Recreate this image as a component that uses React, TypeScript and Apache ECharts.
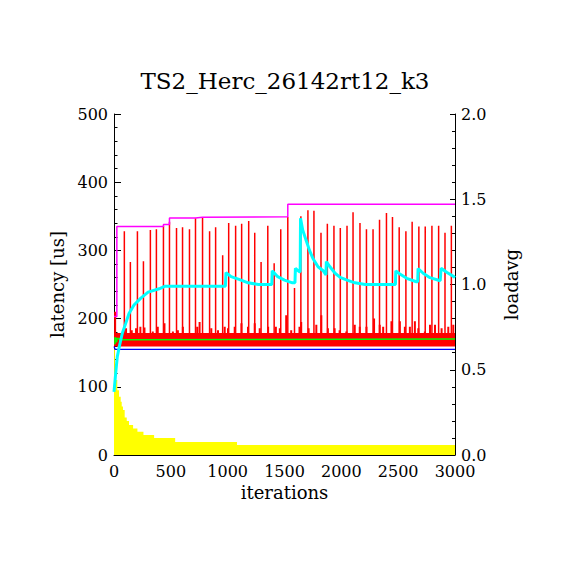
import React, { useEffect, useRef } from "react";
import * as echarts from "echarts";

const titleText = "TS2_Herc_26142rt12_k3";
const xTicks = { min: 0, max: 3000, step: 500 };
const latTicks = { min: 0, max: 500, step: 100 };
const loadTicks = { min: 0, max: 2, step: 0.5 };

// tall latency spikes (iteration, us)
const spikeIter = [91,144,206,259,320,373,435,488,550,603,664,717,779,841,894,956,1009,1070,1123,1185,1238,1294,1353,1409,1467,1529,1588,1644,1706,1759,1821,1877,1935,1991,2050,2103,2164,2221,2279,2336,2397,2450,2509,2568,2623,2682,2738,2797,2856,2912,2968];
const spikeVal = [328,283,328,284,330,331,336,342,333,334,331,347,349,328,334,293,340,336,339,343,326,283,336,281,331,349,245,350,359,358,326,339,336,333,336,356,340,331,331,345,355,349,334,328,342,335,335,336,336,326,336];

// smaller latency bursts above the dense band
const burstIter = [10,106,156,194,232,268,341,385,444,518,562,606,732,753,856,915,974,1003,1062,1121,1179,1238,1282,1356,1424,1459,1515,1559,1632,1647,1712,1780,1824,1882,1941,1985,2044,2118,2162,2221,2288,2338,2368,2441,2515,2559,2603,2647,2677,2735,2780,2824,2882,2941,2985];
const burstVal = [210,186,183,186,188,187,181,188,193,181,183,188,188,195,186,183,188,186,188,193,188,193,186,188,188,186,205,183,188,195,186,191,205,186,186,183,181,191,188,188,200,191,188,196,196,188,188,196,186,181,191,191,186,188,191];

// dense latency band
const bandIter = [0, 3000];
const bandLow = [159, 159];
const bandHigh = [179, 179];

// running max latency (steps)
const maxIter = [0, 25, 435, 488, 717, 779, 1529, 3000];
const maxVal = [203, 335, 338, 347.5, 348.5, 349.5, 367.5, 367.5];

// average latency
const avgIter = [0, 8, 15, 25, 45, 80, 3000];
const avgVal = [163, 172, 166, 171, 169, 170, 170];

// min latency
const minIter = [0, 10, 3000];
const minVal = [159, 155, 155];

// histogram-like decaying yellow area
const yelIter = [0, 8, 15, 29, 44, 59, 68, 79, 94, 112, 132, 168, 206, 259, 353, 538, 1082, 3000];
const yelVal = [155, 120, 110, 95, 85.5, 78, 71, 66, 55, 50, 44, 39, 34, 29.3, 25, 19, 14.7, 14.7];

// load average
const loadIter = [0,15,29,50,73,103,132,176,236,300,397,450,980,985,1030,1100,1180,1270,1388,1392,1440,1500,1570,1592,1596,1630,1638,1641,1660,1690,1720,1750,1795,1840,1865,1868,1900,1945,1990,2050,2120,2210,2476,2479,2515,2575,2660,2672,2675,2720,2780,2870,2874,2877,2930,2990,3000];
const loadVal = [0.37,0.48,0.577,0.645,0.714,0.772,0.83,0.88,0.92,0.955,0.975,0.99,0.99,1.07,1.046,1.03,1.01,1.0,1.0,1.08,1.046,1.026,1.01,1.01,1.095,1.075,1.075,1.388,1.32,1.26,1.2,1.153,1.104,1.081,1.056,1.134,1.104,1.066,1.042,1.026,1.01,1.0,1.0,1.08,1.062,1.036,1.016,1.016,1.093,1.066,1.04,1.022,1.022,1.095,1.07,1.046,1.04];

const pairs = (xs: number[], ys: number[]) => xs.map((x, i) => [x, ys[i]]);
const spikes = (xs: number[], ys: number[], base: number) =>
  xs.flatMap((x, i) => [[x, base], [x, ys[i]], [x, base]]);

export default function App() {
  const ref = useRef<HTMLDivElement>(null);
  useEffect(() => {
    document.body.style.margin = "0";
    const chart = echarts.init(ref.current!, null, { renderer: "svg" });
    const font = "'DejaVu Serif', 'Liberation Serif', serif";
    const black = "#000";
    const txt = { fontFamily: font, fontSize: 16, color: black };
    const nameTxt = { fontFamily: font, fontSize: 18, color: black };
    chart.setOption({
      animation: false,
      backgroundColor: "#fff",
      title: {
        text: titleText,
        left: "center",
        top: 64,
        textStyle: { fontFamily: font, fontSize: 23, fontWeight: "normal", color: black },
      },
      grid: { left: 114, right: 115, top: 114, bottom: 115, containLabel: false },
      xAxis: {
        type: "value",
        min: xTicks.min,
        max: xTicks.max,
        interval: xTicks.step,
        name: "iterations",
        nameLocation: "middle",
        nameGap: 28,
        nameTextStyle: nameTxt,
        axisLine: { show: true, onZero: false, lineStyle: { color: black, width: 1 } },
        axisTick: { show: true, inside: true, length: 7, lineStyle: { color: black } },
        axisLabel: { ...txt, margin: 8, formatter: (v: number) => String(v) },
        splitLine: { show: false },
      },
      yAxis: [
        {
          type: "value",
          position: "left",
          min: latTicks.min,
          max: latTicks.max,
          interval: latTicks.step,
          name: "latency [us]",
          nameLocation: "middle",
          nameRotate: 90,
          nameGap: 40,
          nameTextStyle: nameTxt,
          axisLine: { show: true, onZero: false, lineStyle: { color: black, width: 1 } },
          axisTick: { show: true, inside: true, length: 7, lineStyle: { color: black } },
          minorTick: { show: true, splitNumber: 5, length: 3.5, lineStyle: { color: black } },
          axisLabel: { ...txt, margin: 6, formatter: (v: number) => String(v) },
          splitLine: { show: false },
        },
        {
          type: "value",
          position: "right",
          min: loadTicks.min,
          max: loadTicks.max,
          interval: loadTicks.step,
          name: "loadavg",
          nameLocation: "middle",
          nameRotate: 90,
          nameGap: 47,
          nameTextStyle: nameTxt,
          axisLine: { show: true, onZero: false, lineStyle: { color: black, width: 1 } },
          axisTick: { show: true, inside: true, length: 5, lineStyle: { color: black } },
          minorTick: { show: true, splitNumber: 5, length: 3, lineStyle: { color: black } },
          axisLabel: { ...txt, margin: 6, formatter: (v: number) => v.toFixed(1) },
          splitLine: { show: false },
        },
      ],
      series: [
        {
          type: "line",
          yAxisIndex: 0,
          step: "end",
          symbol: "none",
          data: pairs(yelIter, yelVal),
          lineStyle: { width: 0, color: "#ffff00" },
          areaStyle: { color: "#ffff00", opacity: 1 },
        },
        {
          type: "line",
          yAxisIndex: 0,
          symbol: "none",
          data: pairs(bandIter, bandHigh),
          lineStyle: { width: 0, color: "#ff0000" },
          areaStyle: { color: "#ff0000", opacity: 1, origin: bandLow[0] },
        },
        {
          type: "line",
          yAxisIndex: 0,
          symbol: "none",
          data: spikes(burstIter, burstVal, 170),
          lineStyle: { width: 2, color: "#ff0000" },
        },
        {
          type: "line",
          yAxisIndex: 0,
          symbol: "none",
          data: spikes(spikeIter, spikeVal, 170),
          lineStyle: { width: 1.5, color: "#ff0000" },
        },
        {
          type: "line",
          yAxisIndex: 0,
          symbol: "none",
          step: "end",
          data: pairs(avgIter, avgVal),
          lineStyle: { width: 1.5, color: "#00ff00" },
        },
        {
          type: "line",
          yAxisIndex: 0,
          symbol: "none",
          data: pairs(minIter, minVal),
          lineStyle: { width: 1.2, color: "#0000ff" },
        },
        {
          type: "line",
          yAxisIndex: 0,
          symbol: "none",
          step: "end",
          data: pairs(maxIter, maxVal),
          lineStyle: { width: 1.5, color: "#ff00ff" },
        },
        {
          type: "line",
          yAxisIndex: 1,
          symbol: "none",
          data: pairs(loadIter, loadVal),
          lineStyle: { width: 3, color: "#00ffff" },
        },
      ],
    });
    return () => chart.dispose();
  }, []);
  return <div ref={ref} style={{ width: 570, height: 570, background: "#fff" }} />;
}
